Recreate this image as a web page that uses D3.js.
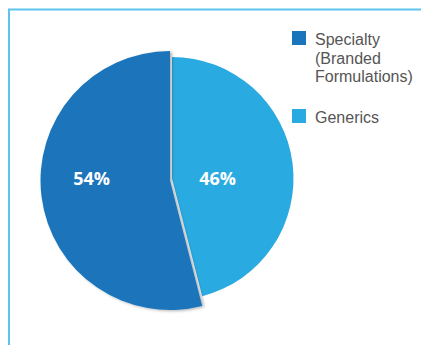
<!DOCTYPE html>
<html><head><meta charset="utf-8">
<script src="https://cdn.jsdelivr.net/npm/d3@7/dist/d3.min.js"></script>
<style>body{margin:0;background:#fff}svg{display:block}</style>
</head><body>
<svg id="c" width="421" height="345"></svg>
<script>
const categories = ["Specialty (Branded Formulations)", "Generics"];
const legendLines = [["Specialty", "(Branded", "Formulations)"], ["Generics"]];
const values = [54, 46];
const labels = ["54%", "46%"];
const colors = ["#1b75bb", "#29aae1"];

const svg = d3.select("#c");
const defs = svg.append("defs");
const f = defs.append("filter").attr("id","sh").attr("x","-20%").attr("y","-20%").attr("width","140%").attr("height","140%");
f.append("feDropShadow").attr("dx",2).attr("dy",1).attr("stdDeviation",1.8).attr("flood-color","#000").attr("flood-opacity",0.3);

// frame
svg.append("path").attr("d","M9,345 V9.5 H421").attr("fill","none").attr("stroke","#5cc3ee").attr("stroke-width",2);

const pie = d3.pie().sort(null).startAngle(0).endAngle(-2*Math.PI).value(d=>d);
const arcs = pie(values);

const geo = [
  {cx:170, cy:180.5, r:129.5},
  {cx:172, cy:178.5, r:121.5}
];
const norm = a => ({startAngle:Math.min(a.startAngle,a.endAngle), endAngle:Math.max(a.startAngle,a.endAngle)});
[1,0].forEach(i=>{
  const g = geo[i];
  svg.append("path")
    .attr("transform",`translate(${g.cx},${g.cy})`)
    .attr("d", d3.arc().innerRadius(0).outerRadius(g.r)(norm(arcs[i])))
    .attr("fill", colors[i])
    .attr("filter", i===0 ? "url(#sh)" : null);
});
arcs.forEach((a,i)=>{
  const g = geo[i];
  const rr = i===0?79:46;
  const [x] = d3.arc().innerRadius(rr).outerRadius(rr).centroid(norm(a));
  svg.append("text").attr("x", g.cx + x).attr("y", 185)
    .attr("text-anchor","middle").attr("fill","#fff")
    .attr("font-family","Open Sans, Liberation Sans, sans-serif").attr("font-weight","bold").attr("font-size",18)
    .text(labels[i]);
});

// legend
const ly = [31, 109];
legendLines.forEach((lines,i)=>{
  svg.append("rect").attr("x",292).attr("y",ly[i]).attr("width",14).attr("height",14).attr("fill",colors[i]);
  const t = svg.append("text").attr("x",315).attr("y",ly[i]+14)
    .attr("fill","#555").attr("font-family","Liberation Sans, sans-serif").attr("font-size",16).attr("textLength",null);
  lines.forEach((l,j)=>t.append("tspan").attr("x",315).attr("dy", j===0?0:18.5).text(l));
});
</script>
</body></html>
